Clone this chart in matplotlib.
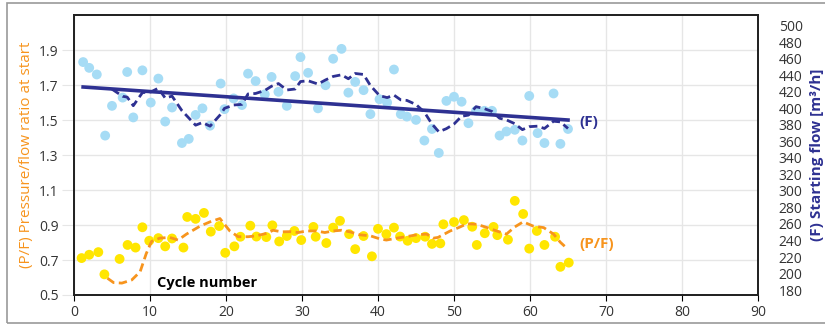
import numpy as np
import pandas as pd
import matplotlib
matplotlib.use("Agg")
import matplotlib.pyplot as plt
from matplotlib.patches import Rectangle

plt.rcParams['font.family'] = ['Open Sans', 'DejaVu Sans']

# (F) starting flow, m3/h  (right axis)
cycle_f = [1.2, 2.0, 3.0, 4.1, 5.0, 6.4, 7.0, 7.8, 9.0, 10.1,
           11.1, 12.0, 12.9, 14.2, 15.1, 16.0, 16.9, 17.9, 19.3, 19.8,
           21.0, 22.1, 22.9, 23.9, 25.1, 26.0, 26.9, 28.0, 29.1, 29.8,
           30.8, 32.1, 33.1, 34.1, 35.2, 36.1, 37.0, 38.1, 39.0, 40.2,
           41.2, 42.1, 43.0, 43.8, 45.0, 46.1, 47.1, 48.0, 49.0, 50.0,
           51.0, 51.9, 52.9, 54.0, 55.0, 56.0, 56.9, 58.0, 59.0, 59.9,
           61.0, 61.9, 63.1, 64.0, 65.0]
flow = [456, 449, 441, 367, 403, 413, 444, 389, 446, 407,
        436, 384, 401, 358, 363, 392, 400, 379, 430, 399,
        412, 404, 442, 433, 417, 438, 420, 403, 439, 462,
        443, 400, 428, 460, 472, 419, 432, 422, 393, 411,
        407, 447, 393, 390, 386, 361, 375, 346, 409, 414,
        408, 382, 397, 397, 397, 367, 372, 374, 361, 415,
        370, 358, 418, 357, 375]

# (P/F) pressure/flow ratio at start (left axis)
cycle_pf = [1.0, 2.0, 3.2, 4.0, 6.0, 7.05, 8.1, 9.0, 9.9, 11.1,
            12.0, 12.9, 14.4, 14.9, 16.0, 17.1, 18.0, 19.1, 19.9, 21.1,
            21.9, 23.2, 24.0, 25.3, 26.1, 27.0, 28.0, 29.0, 29.9, 31.5,
            31.8, 33.2, 34.1, 35.0, 36.2, 37.0, 38.1, 39.2, 40.0, 41.1,
            42.1, 42.9, 43.9, 45.0, 46.2, 47.1, 48.2, 48.6, 50.0, 51.3,
            52.4, 53.0, 54.05, 55.2, 55.7, 57.1, 58.0, 59.1, 59.9, 60.9,
            61.9, 63.3, 64.0, 65.1]
pf = [0.711, 0.730, 0.745, 0.618, 0.706, 0.786, 0.771, 0.887, 0.810, 0.825,
      0.778, 0.823, 0.771, 0.946, 0.935, 0.969, 0.862, 0.894, 0.741, 0.778,
      0.833, 0.896, 0.834, 0.831, 0.898, 0.806, 0.837, 0.866, 0.814, 0.889,
      0.833, 0.797, 0.885, 0.924, 0.848, 0.762, 0.837, 0.721, 0.878, 0.848,
      0.885, 0.834, 0.810, 0.825, 0.833, 0.792, 0.795, 0.904, 0.917, 0.928,
      0.890, 0.786, 0.853, 0.889, 0.842, 0.816, 1.038, 0.963, 0.765, 0.866,
      0.786, 0.833, 0.661, 0.685]

# smoothed P/F curve (dashed orange)
cycle_pf_avg = [4.4, 5.2, 6.3, 7.6, 8.7, 9.5, 10.2, 11.3, 12.6, 13.7,
                14.8, 16.6, 17.9, 19.2, 20.5, 21.6, 22.9, 24.0, 25.4, 26.2,
                27.3, 28.4, 29.5, 30.6, 31.9, 33.0, 34.1, 35.2, 36.3, 37.6,
                39.0, 40.3, 41.1, 42.5, 43.8, 45.1, 46.4, 47.3, 47.9, 49.5,
                50.6, 51.7, 53.0, 54.1, 55.6, 56.9, 58.0, 59.1, 60.4, 61.8,
                63.1, 64.0, 64.7]
pf_avg = [0.596, 0.571, 0.568, 0.586, 0.633, 0.736, 0.806, 0.825, 0.829, 0.814,
          0.848, 0.894, 0.918, 0.937, 0.866, 0.833, 0.833, 0.838, 0.853, 0.870,
          0.861, 0.862, 0.857, 0.866, 0.866, 0.857, 0.866, 0.870, 0.861, 0.844,
          0.838, 0.820, 0.814, 0.825, 0.834, 0.844, 0.848, 0.825, 0.829, 0.866,
          0.885, 0.907, 0.904, 0.889, 0.866, 0.848, 0.889, 0.918, 0.894, 0.885,
          0.848, 0.801, 0.773]

c_light = '#a6dcf5'
c_yellow = '#ffe600'
c_orange = '#f7941d'
c_navy = '#2e3192'
c_text = '#333333'

fig = plt.figure(figsize=(8.25, 3.25), dpi=100)
fig.patches.append(Rectangle((0.008, 0.006), 1.2, 0.985, transform=fig.transFigure,
                             fill=False, edgecolor='#999999', lw=1.2))

ax = fig.add_axes([74 / 825, 30 / 325, 684 / 825, 280 / 325])
ax2 = ax.twinx()

ax.set_xlim(0, 90)
ax.set_ylim(0.5, 2.1)
ax2.set_ylim(174, 513)

ax.set_xticks(range(0, 91, 10))
ax.set_yticks(np.arange(0.5, 2.0, 0.2))
ax.set_yticklabels(['%.1f' % v for v in np.arange(0.5, 2.0, 0.2)])
ax2.set_yticks(range(180, 501, 20))

ax.grid(True, color='#e6e6e6', lw=1)
ax.set_axisbelow(True)
ax.tick_params(axis='y', length=9, color='#e6e6e6', labelsize=10, labelcolor=c_text, pad=2)
ax.tick_params(axis='x', length=4, color='black', labelsize=10, labelcolor=c_text, pad=3)
ax2.tick_params(axis='y', length=0, labelsize=10, labelcolor=c_text, pad=15)
for a in (ax, ax2):
    for s in a.spines.values():
        s.set_color('#222222')
        s.set_linewidth(1.3)

# P/F on left axis
ax.scatter(cycle_pf, pf, s=50, color=c_yellow, edgecolors='none', zorder=3)
ax.plot(cycle_pf_avg, pf_avg, color=c_orange, lw=2, dashes=(3, 1.6), zorder=4)

# flow on right axis
ax2.scatter(cycle_f, flow, s=50, color=c_light, edgecolors='none', zorder=3)
f_ma = pd.Series(flow).rolling(5).mean()
ax2.plot(cycle_f, f_ma, color=c_navy, lw=2, dashes=(3, 1.6), zorder=4)
k, b = np.polyfit(cycle_f, flow, 1)
xs = np.array([cycle_f[0], cycle_f[-1]])
ax2.plot(xs, k * xs + b, color=c_navy, lw=2.6, zorder=5)

ax2.text(66.5, 384, '(F)', color=c_navy, fontsize=11, fontweight='bold', va='center')
ax.text(66.5, 0.79, '(P/F)', color=c_orange, fontsize=11, fontweight='bold', va='center')
ax.text(17.5, 0.57, 'Cycle number', color='black', fontsize=10.5, fontweight='bold',
        ha='center', va='center')

ax.set_ylabel('(P/F) Pressure/flow ratio at start', color=c_orange, fontsize=11, labelpad=4)
ax2.set_ylabel('(F) Starting flow [m³/h]', color=c_navy, fontsize=11,
               fontweight='bold', labelpad=5)

fig.savefig('out.png', dpi=100)
